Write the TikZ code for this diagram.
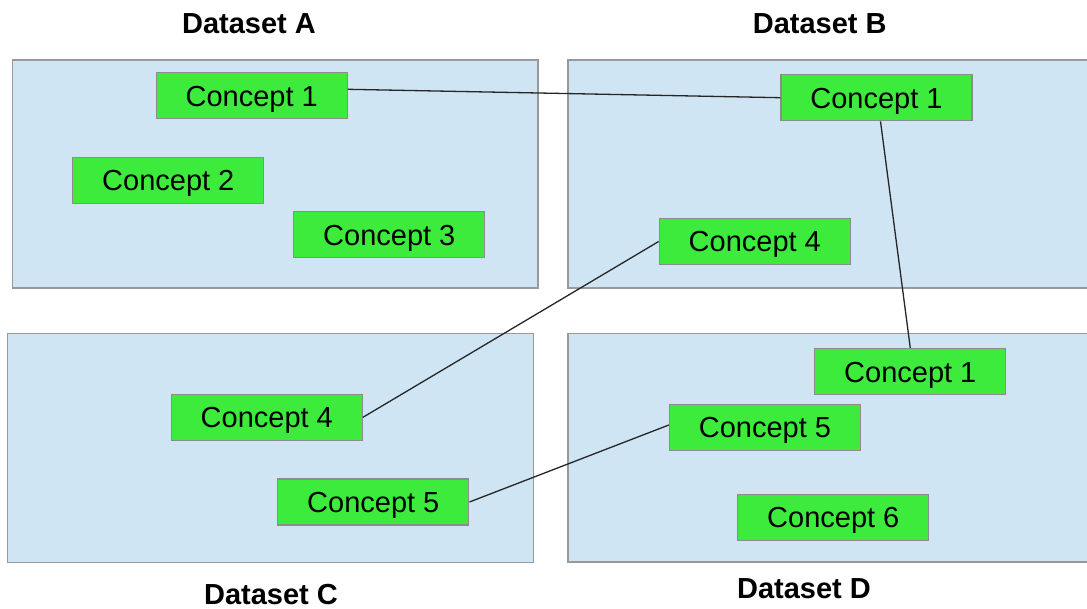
\documentclass[tikz,border=0pt]{standalone}
\usepackage{fontspec}
\setmainfont{Liberation Sans}
\begin{document}
\begin{tikzpicture}[x=1pt,y=-1pt,
  dataset/.style={draw=black!40, line width=1.4pt, fill=dsblue},
  concept/.style={draw=black!45, line width=1.3pt, fill=conceptgreen,
    minimum width=191pt, minimum height=46pt, inner sep=0pt,
    text height=21pt, text depth=0pt,
    font=\fontsize{29}{34}\selectfont},
  title/.style={anchor=base, inner sep=0pt,
    font=\fontsize{29}{34}\selectfont\bfseries},
  link/.style={draw=black!85, line width=1.3pt}]
\definecolor{dsblue}{HTML}{CFE5F3}
\definecolor{conceptgreen}{HTML}{3DEB3D}

\useasboundingbox (0,0) rectangle (1087,609);
\clip (0,0) rectangle (1087,609);
\fill[white] (0,0) rectangle (1087,609);

% dataset regions
\path[dataset] (12.3,60) rectangle (538,288);
\path[dataset] (568,60) rectangle (1100,288);
\path[dataset] (7.3,333.5) rectangle (533.3,562.3);
\path[dataset] (568,333.3) rectangle (1100,562);

% dataset titles
\node[title] (tA) at (249,33.3) {Dataset A};
\node[title] (tB) at (819.7,33.3) {Dataset B};
\node[title] (tC) at (271,604.5) {Dataset C};
\node[title] (tD) at (804,598.3) {Dataset D};

% concepts
\node[concept] (A1) at (251.7,95.8) {Concept 1};
\node[concept] (A2) at (168.3,180.5) {Concept 2};
\node[concept] (A3) at (389.3,234.7) {Concept 3};
\node[concept] (B1) at (876.5,97.7) {Concept 1};
\node[concept] (B4) at (754.8,241.5) {Concept 4};
\node[concept] (C4) at (266.8,417.3) {Concept 4};
\node[concept] (C5) at (373.3,502) {Concept 5};
\node[concept] (D1) at (910.3,371.8) {Concept 1};
\node[concept] (D5) at (765,427.5) {Concept 5};
\node[concept] (D6) at (833.3,517.2) {Concept 6};

% links between matching concepts
\draw[link] ([yshift=6.5pt]A1.east) -- (B1.west);
\draw[link] ([xshift=4pt]B1.south) -- (D1.north);
\draw[link] (C4.east) -- (B4.west);
\draw[link] (C5.east) -- ([yshift=2.5pt]D5.west);
\end{tikzpicture}
\end{document}
